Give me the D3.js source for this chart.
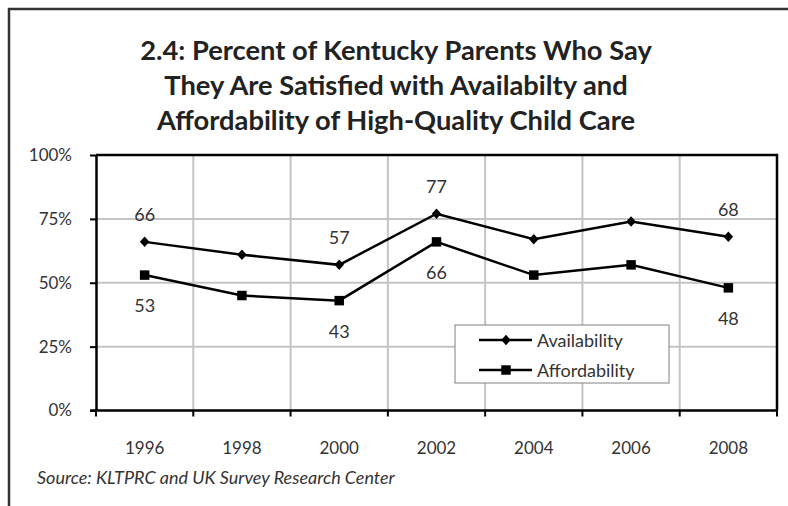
<!DOCTYPE html>
<html><head><meta charset="utf-8">
<script src="https://cdn.jsdelivr.net/npm/d3@7/dist/d3.min.js"></script>
<style>
html,body{margin:0;padding:0;background:#fff;}
svg{display:block;font-family:Lato,"Open Sans",sans-serif;}
</style></head>
<body>
<svg id="chart" width="788" height="506"></svg>
<script>
const titleLines = ["2.4:  Percent of Kentucky Parents Who Say","They Are Satisfied with Availabilty and","Affordability of High-Quality Child Care"];
const years = ["1996","1998","2000","2002","2004","2006","2008"];
const availability = [66, 61, 57, 77, 67, 74, 68];
const affordability = [53, 45, 43, 66, 53, 57, 48];
const yTicks = [0, 25, 50, 75, 100];
const labelYears = ["1996","2000","2002","2008"];
const seriesNames = ["Availability","Affordability"];
const sourceText = "Source: KLTPRC and UK Survey Research Center";

const svg = d3.select("#chart");
const m = {left:96, right:777, top:155, bottom:410.5};

// outer frame
svg.append("path").attr("d","M9,506V9H790").attr("fill","none").attr("stroke","#333").attr("stroke-width",2.5);

// title (fit first line to reference width)
const tg = svg.append("g").attr("font-weight","bold").attr("fill","#222").attr("text-anchor","middle");
const tt = tg.selectAll("text").data(titleLines).join("text")
  .attr("x",396).attr("y",(d,i)=>60+i*35).attr("font-size",27).text(d=>d);
const w0 = tt.nodes()[0].getComputedTextLength();
tt.attr("font-size",27*512/w0);

const x = d3.scaleBand().domain(years).range([m.left,m.right]);
const y = d3.scaleLinear().domain([0,100]).range([m.bottom,m.top]);

// gridlines
const grid = svg.append("g");
grid.selectAll("line.h").data(yTicks.filter(d=>d>0&&d<100)).join("line")
  .attr("x1",m.left).attr("x2",m.right).attr("y1",d=>y(d)).attr("y2",d=>y(d))
  .attr("stroke","#c4c4c4").attr("stroke-width",2);
grid.selectAll("line.v").data(years.slice(1)).join("line")
  .attr("x1",d=>x(d)).attr("x2",d=>x(d)).attr("y1",m.top).attr("y2",m.bottom)
  .attr("stroke","#c4c4c4").attr("stroke-width",2);

// plot border top/right
svg.append("path").attr("d",`M${m.left},${m.top}H${m.right}V${m.bottom}`).attr("fill","none").attr("stroke","#000").attr("stroke-width",2.5);

// y axis
const yAxis = svg.append("g").attr("transform",`translate(${m.left},0)`)
  .call(d3.axisLeft(y).tickValues(yTicks).tickFormat(d=>d+"%").tickSize(6).tickSizeOuter(0));
yAxis.select(".domain").attr("stroke","#000").attr("stroke-width",2.5);
yAxis.selectAll(".tick line").attr("stroke","#000").attr("stroke-width",2);
yAxis.selectAll(".tick text").attr("font-size",17).attr("fill","#333").attr("x",-24).attr("font-family","Lato,sans-serif");

// x axis: ticks at band boundaries
const xAxisG = svg.append("g").attr("transform",`translate(0,${m.bottom})`);
xAxisG.append("line").attr("x1",m.left-6).attr("x2",m.right).attr("y1",0).attr("y2",0).attr("stroke","#000").attr("stroke-width",2.5);
const bounds = years.map(d=>x(d)).concat([m.right]);
xAxisG.selectAll("line.tk").data(bounds).join("line")
  .attr("x1",d=>d).attr("x2",d=>d).attr("y1",0).attr("y2",6).attr("stroke","#000").attr("stroke-width",2);
xAxisG.selectAll("text").data(years).join("text")
  .attr("x",d=>x(d)+x.bandwidth()/2).attr("y",43)
  .attr("text-anchor","middle").attr("font-size",17).attr("fill","#333").text(d=>d);

const cx = d => x(d)+x.bandwidth()/2;
const line = d3.line().x((d,i)=>cx(years[i])).y(d=>y(d));

svg.append("path").datum(availability).attr("d",line).attr("fill","none").attr("stroke","#000").attr("stroke-width",2.5);
svg.append("path").datum(affordability).attr("d",line).attr("fill","none").attr("stroke","#000").attr("stroke-width",2.5);

// Excel-like diamond (nearly square, rotated)
const excelDiamond = {draw(ctx, size){ const r = Math.sqrt(size/2); ctx.moveTo(0,-r*1.05); ctx.lineTo(r*0.95,0); ctx.lineTo(0,r*1.05); ctx.lineTo(-r*0.95,0); ctx.closePath(); }};
const diamond = d3.symbol().type(excelDiamond).size(50);
const square = d3.symbol().type(d3.symbolSquare).size(90);

svg.append("g").selectAll("path").data(availability).join("path")
  .attr("d",diamond).attr("transform",(d,i)=>`translate(${cx(years[i])},${y(d)})`).attr("fill","#000");
svg.append("g").selectAll("path").data(affordability).join("path")
  .attr("d",square).attr("transform",(d,i)=>`translate(${cx(years[i])},${y(d)})`).attr("fill","#000");

// data labels
const lab = svg.append("g").attr("font-size",18).attr("fill","#333").attr("text-anchor","middle");
years.forEach((yr,i)=>{
  if(!labelYears.includes(yr)) return;
  lab.append("text").attr("x",cx(yr)).attr("y",y(availability[i])-21).text(availability[i]);
  lab.append("text").attr("x",cx(yr)).attr("y",y(affordability[i])+37).text(affordability[i]);
});

// legend
const lg = svg.append("g").attr("transform","translate(455,325)");
lg.append("rect").attr("x",0).attr("y",0).attr("width",214).attr("height",58).attr("fill","#fff").attr("stroke","#808080").attr("stroke-width",1);
seriesNames.forEach((name,i)=>{
  const yy = 15+i*30;
  lg.append("line").attr("x1",24).attr("x2",77).attr("y1",yy).attr("y2",yy).attr("stroke","#000").attr("stroke-width",2.5);
  lg.append("path").attr("d",i===0?diamond:square).attr("transform",`translate(51,${yy})`).attr("fill","#000");
  lg.append("text").attr("x",82).attr("y",yy+6.5).attr("font-size",18).attr("fill","#333").text(name);
});

// source (fit to reference width)
const src = svg.append("text").attr("x",37).attr("y",484).attr("font-size",16).attr("font-style","italic").attr("fill","#333").text(sourceText);
const ws = src.node().getComputedTextLength();
src.attr("font-size",16*358/ws);
</script>
</body></html>
